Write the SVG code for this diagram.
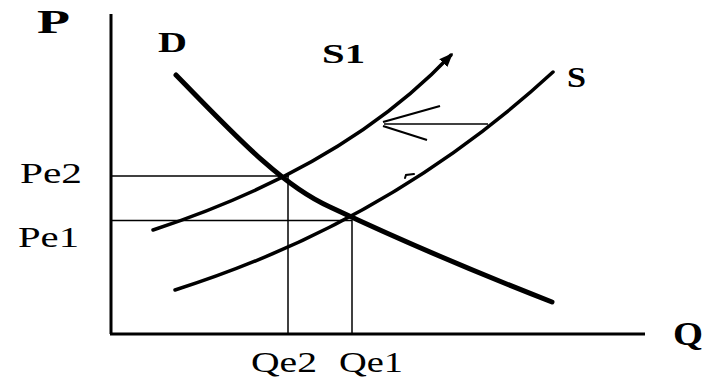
<svg xmlns="http://www.w3.org/2000/svg" width="706" height="385" viewBox="0 0 706 385">
<style>
.lbl{font-family:"Liberation Serif","Times New Roman",serif;fill:#000}
.b{font-weight:bold}
.axis{stroke:#000;stroke-width:3;fill:none}
.thin{stroke:#000;stroke-width:1.5;fill:none}
.curve{stroke:#000;fill:none;stroke-linecap:round}
</style>
<defs>
<marker id="tip" viewBox="0 0 10 10" refX="8" refY="5" markerWidth="4" markerHeight="4" orient="auto" markerUnits="strokeWidth">
<path d="M0,1 L10,5 L0,9 z" fill="#000"/>
</marker>
</defs>
<rect width="706" height="385" fill="#fff"/>
<g id="axes">
<line class="axis" x1="111" y1="14" x2="111" y2="334"/>
<line class="axis" x1="110" y1="334" x2="645" y2="334"/>
</g>
<g id="connectors">
<line class="thin" x1="111" y1="176" x2="289" y2="176"/>
<line class="thin" x1="111" y1="220.5" x2="352" y2="220.5"/>
<line class="thin" x1="288" y1="176" x2="288" y2="334"/>
<line class="thin" x1="352" y1="220" x2="352" y2="334"/>
<line class="thin" x1="384" y1="124" x2="488" y2="124"/>
<line stroke="#000" stroke-width="2.2" x1="383" y1="122" x2="440" y2="106"/>
<line stroke="#000" stroke-width="2.2" x1="383" y1="126" x2="427" y2="140"/>
<path class="curve" stroke-width="2" d="M405,178 L406,175 L414,174"/>
</g>
<g id="D">
<path class="curve" stroke-width="5" d="M176,75 C230,130 280,185 330,207 C400,240 470,270 552,302"/>
<text class="lbl b" x="158" y="52" font-size="30" textLength="29" lengthAdjust="spacingAndGlyphs">D</text>
</g>
<g id="S1">
<path class="curve" stroke-width="3.5" d="M153,230 Q345,167 451,55" marker-end="url(#tip)"/>
<text class="lbl b" x="322" y="63" font-size="27" textLength="43" lengthAdjust="spacingAndGlyphs">S1</text>
</g>
<g id="S">
<path class="curve" stroke-width="3.5" d="M175,290 Q390,222 553,72"/>
<text class="lbl b" x="567" y="87" font-size="29" textLength="19" lengthAdjust="spacingAndGlyphs">S</text>
</g>
<g id="labels">
<text class="lbl b" x="37" y="33" font-size="34" textLength="33" lengthAdjust="spacingAndGlyphs">P</text>
<text class="lbl b" x="673" y="345" font-size="33" textLength="30" lengthAdjust="spacingAndGlyphs">Q</text>
<text class="lbl" x="20" y="183" font-size="29" textLength="62" lengthAdjust="spacingAndGlyphs">Pe2</text>
<text class="lbl" x="18" y="247" font-size="30" textLength="61" lengthAdjust="spacingAndGlyphs">Pe1</text>
<text class="lbl" x="251" y="372" font-size="30" textLength="66" lengthAdjust="spacingAndGlyphs">Qe2</text>
<text class="lbl" x="339" y="372" font-size="30" textLength="64" lengthAdjust="spacingAndGlyphs">Qe1</text>
</g>
</svg>
